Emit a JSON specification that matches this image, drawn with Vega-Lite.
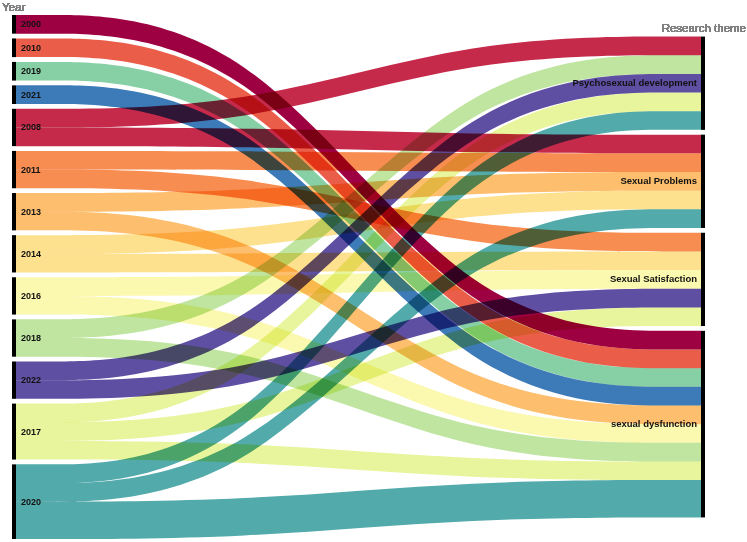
{
  "$schema": "https://vega.github.io/schema/vega-lite/v6.json",
  "width": 685,
  "height": 524,
  "autosize": {"type": "none"},
  "padding": {"left": 16, "top": 15, "right": 46, "bottom": 3},
  "background": "white",
  "config": {"view": {"stroke": null}, "font": "Liberation Sans"},
  "data": {
    "values": [
      {"year": "2000", "theme": "sexual dysfunction", "n": 1},
      {"year": "2010", "theme": "sexual dysfunction", "n": 1},
      {"year": "2019", "theme": "sexual dysfunction", "n": 1},
      {"year": "2021", "theme": "sexual dysfunction", "n": 1},
      {"year": "2008", "theme": "Psychosexual development", "n": 1},
      {"year": "2008", "theme": "Sexual Problems", "n": 1},
      {"year": "2011", "theme": "Sexual Problems", "n": 1},
      {"year": "2011", "theme": "Sexual Satisfaction", "n": 1},
      {"year": "2013", "theme": "Sexual Problems", "n": 1},
      {"year": "2013", "theme": "sexual dysfunction", "n": 1},
      {"year": "2014", "theme": "Sexual Problems", "n": 1},
      {"year": "2014", "theme": "Sexual Satisfaction", "n": 1},
      {"year": "2016", "theme": "Sexual Satisfaction", "n": 1},
      {"year": "2016", "theme": "sexual dysfunction", "n": 1},
      {"year": "2018", "theme": "Psychosexual development", "n": 1},
      {"year": "2018", "theme": "sexual dysfunction", "n": 1},
      {"year": "2022", "theme": "Psychosexual development", "n": 1},
      {"year": "2022", "theme": "Sexual Satisfaction", "n": 1},
      {"year": "2017", "theme": "Psychosexual development", "n": 1},
      {"year": "2017", "theme": "Sexual Satisfaction", "n": 1},
      {"year": "2017", "theme": "sexual dysfunction", "n": 1},
      {"year": "2020", "theme": "Psychosexual development", "n": 1},
      {"year": "2020", "theme": "Sexual Problems", "n": 1},
      {"year": "2020", "theme": "sexual dysfunction", "n": 2}
    ]
  },
  "transform": [
    {"joinaggregate": [{"op": "sum", "field": "n", "as": "yt"}], "groupby": ["year"]},
    {"joinaggregate": [{"op": "sum", "field": "n", "as": "tt"}], "groupby": ["theme"]},
    {"window": [{"op": "dense_rank", "as": "yr"}], "sort": [{"field": "yt"}, {"field": "year"}]},
    {"window": [{"op": "dense_rank", "as": "tr"}], "sort": [{"field": "tt"}, {"field": "theme"}]},
    {"window": [{"op": "sum", "field": "n", "as": "lc"}], "sort": [{"field": "yr"}, {"field": "tr"}], "frame": [null, 0]},
    {"window": [{"op": "sum", "field": "n", "as": "rc"}], "sort": [{"field": "tr"}, {"field": "yr"}], "frame": [null, 0]},
    {"calculate": "datum.lc - datum.n + (datum.yr - 1) * 0.257", "as": "L0"},
    {"calculate": "datum.L0 + datum.n", "as": "L1"},
    {"calculate": "datum.rc - datum.n + (datum.tr + 3.5) * 0.257", "as": "R0"},
    {"calculate": "datum.R0 + datum.n", "as": "R1"}
  ],
  "layer": [
    {
      "transform": [
        {"calculate": "datum.L0", "as": "P1"},
        {"calculate": "datum.R0", "as": "P2"},
        {"fold": ["L0", "P1", "P2", "R0"], "as": ["pt", "top"]},
        {"calculate": "datum.top + datum.n", "as": "bot"}
      ],
      "mark": {"type": "area", "interpolate": "basis", "blend": "multiply", "opacity": 1},
      "encoding": {
        "x": {
          "field": "pt", "type": "ordinal",
          "scale": {"type": "point", "domain": ["L0", "P1", "P2", "R0"], "padding": 0},
          "axis": null
        },
        "y": {
          "field": "top", "type": "quantitative", "stack": null,
          "scale": {"domain": [0, 28.084], "reverse": true, "nice": false, "zero": false},
          "axis": null
        },
        "y2": {"field": "bot"},
        "color": {
          "field": "year", "type": "nominal",
          "scale": {
            "domain": ["2000", "2008", "2010", "2011", "2013", "2014", "2016", "2017", "2018", "2019", "2020", "2021", "2022"],
            "range": ["#9e0142", "#c52a4b", "#ea5d48", "#f88d51", "#fdbe6e", "#fee18f", "#fbf8b0", "#e8f59c", "#bfe5a0", "#87cfa4", "#52aaab", "#3d7ab8", "#5e4fa2"]
          },
          "legend": null
        },
        "detail": {"field": "theme"}
      }
    },
    {
      "transform": [
        {"aggregate": [{"op": "min", "field": "L0", "as": "b0"}, {"op": "max", "field": "L1", "as": "b1"}], "groupby": ["year"]},
        {"calculate": "(datum.b0 + datum.b1) / 2", "as": "mid"}
      ],
      "layer": [
        {
          "mark": {"type": "rule", "strokeWidth": 4, "color": "black", "xOffset": -2},
          "encoding": {
            "x": {"datum": "L0", "type": "ordinal", "axis": null},
            "y": {"field": "b0", "type": "quantitative", "axis": null},
            "y2": {"field": "b1"}
          }
        },
        {
          "mark": {"type": "text", "align": "left", "baseline": "middle", "dx": 5, "fontSize": 9, "fontWeight": "bold", "color": "#111111", "font": "Liberation Sans"},
          "encoding": {
            "x": {"datum": "L0", "type": "ordinal", "axis": null},
            "y": {"field": "mid", "type": "quantitative", "axis": null},
            "text": {"field": "year"}
          }
        }
      ]
    },
    {
      "transform": [
        {"aggregate": [{"op": "min", "field": "R0", "as": "b0"}, {"op": "max", "field": "R1", "as": "b1"}], "groupby": ["theme"]},
        {"calculate": "(datum.b0 + datum.b1) / 2", "as": "mid"}
      ],
      "layer": [
        {
          "mark": {"type": "rule", "strokeWidth": 4, "color": "black", "xOffset": 2},
          "encoding": {
            "x": {"datum": "R0", "type": "ordinal", "axis": null},
            "y": {"field": "b0", "type": "quantitative", "axis": null},
            "y2": {"field": "b1"}
          }
        },
        {
          "mark": {"type": "text", "align": "right", "baseline": "middle", "dx": -4, "fontSize": 9.5, "fontWeight": "bold", "color": "#111111", "font": "Liberation Sans"},
          "encoding": {
            "x": {"datum": "R0", "type": "ordinal", "axis": null},
            "y": {"field": "mid", "type": "quantitative", "axis": null},
            "text": {"field": "theme"}
          }
        }
      ]
    },
    {
      "mark": {"type": "text", "text": "Year", "align": "left", "baseline": "alphabetic", "dx": -14, "dy": -4, "fontSize": 11.5, "color": "#808080", "font": "Liberation Sans"},
      "encoding": {
        "x": {"datum": "L0", "type": "ordinal", "axis": null},
        "y": {"datum": 0, "type": "quantitative", "axis": null}
      }
    },
    {
      "mark": {"type": "text", "text": "Research theme", "align": "right", "baseline": "alphabetic", "dx": 45, "dy": 17, "fontSize": 11.5, "color": "#808080", "font": "Liberation Sans"},
      "encoding": {
        "x": {"datum": "R0", "type": "ordinal", "axis": null},
        "y": {"datum": 0, "type": "quantitative", "axis": null}
      }
    }
  ]
}
